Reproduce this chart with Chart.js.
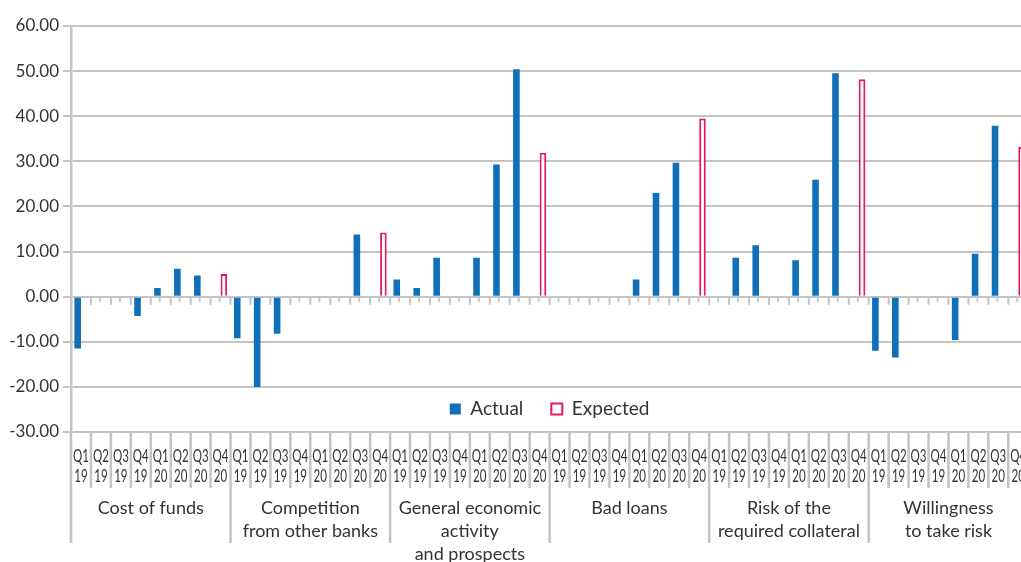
<!DOCTYPE html>
<html>
<head>
<meta charset="utf-8">
<script src="https://cdn.jsdelivr.net/npm/chart.js@4/dist/chart.umd.min.js"></script>
<style>
  html, body { margin: 0; padding: 0; overflow: hidden; background: #ffffff; }
  #c { display: block; }
</style>
</head>
<body>
<canvas id="c" width="1030" height="627" style="width:1030px;height:627px"></canvas>
<script>
// Factor groups and the quarters surveyed within each group
const groups = [
  'Cost of funds',
  ['Competition', 'from other banks'],
  ['General economic', 'activity', 'and prospects'],
  'Bad loans',
  ['Risk of the', 'required collateral'],
  ['Willingness', 'to take risk']
];
const quarters = ['Q1', 'Q2', 'Q3', 'Q4', 'Q1', 'Q2', 'Q3', 'Q4'];
const years = ['19', '19', '19', '19', '20', '20', '20', '20'];

// Actual net percentages per group (Q1 19 .. Q4 20; Q4 20 not yet observed)
const actualCostOfFunds  = [-11.5, 0, 0, -4.3, 1.9, 6.2, 4.7, null];
const actualCompetition  = [-9.2, -20.0, -8.2, 0, 0, 0, 13.8, null];
const actualEconomy      = [3.8, 1.9, 8.6, 0, 8.6, 29.3, 50.4, null];
const actualBadLoans     = [0, 0, 0, 0, 3.8, 23.0, 29.7, null];
const actualCollateral   = [0, 8.6, 11.4, 0, 8.1, 25.9, 49.5, null];
const actualRiskTaking   = [-12.0, -13.5, 0, 0, -9.6, 9.5, 37.9, null];

// Expected values for Q4 20, one per group
const expectedQ4 = [5.0, 14.2, 31.9, 39.5, 48.2, 33.2];

// Y axis range and step
const yMin = -30, yMax = 60, yStep = 10;

const actualSeries = [actualCostOfFunds, actualCompetition, actualEconomy,
                      actualBadLoans, actualCollateral, actualRiskTaking];

const labels = [];
const actual = [];
const expected = [];
groups.forEach((g, gi) => {
  quarters.forEach((q, qi) => {
    labels.push([q, years[qi]]);
    actual.push(actualSeries[gi][qi]);
    expected.push(qi === quarters.length - 1 ? expectedQ4[gi] : null);
  });
});

const gridColor = '#c4c4c4';
const textColor = '#333333';
const blue = '#0f6fb8';
const pink = '#e5195e';

// Small ticks along the zero line and the separators of the category table below the plot
const axisDecor = {
  id: 'axisDecor',
  beforeDatasetsDraw(chart) {
    const { ctx, scales: { x, y } } = chart;
    const step = x.getPixelForValue(1) - x.getPixelForValue(0);
    const y0 = y.getPixelForValue(0);
    ctx.save();
    ctx.strokeStyle = gridColor;
    ctx.lineWidth = 2;
    ctx.beginPath();
    for (let i = 0; i < labels.length; i++) {
      const cx = x.getPixelForValue(i);
      if (i > 0) {
        ctx.moveTo(cx - step / 2, y0);
        ctx.lineTo(cx - step / 2, y0 + 8);
      }
      ctx.moveTo(cx - 1, y0);
      ctx.lineTo(cx - 1, y0 + 5);
    }
    ctx.stroke();
    ctx.restore();
  },
  afterDraw(chart) {
    const { ctx, chartArea, scales: { x } } = chart;
    const step = x.getPixelForValue(1) - x.getPixelForValue(0);
    const top = chartArea.bottom;
    ctx.save();
    ctx.strokeStyle = gridColor;
    ctx.lineWidth = 2.5;
    ctx.beginPath();
    for (let i = 0; i <= labels.length; i++) {
      const bx = x.getPixelForValue(0) - step / 2 + i * step;
      const len = i % quarters.length === 0 ? 111 : 56;
      ctx.moveTo(bx, top);
      ctx.lineTo(bx, top + len);
    }
    ctx.stroke();
    ctx.restore();
  }
};

// Places the legend inside the plot, just above the lowest gridline
const legendInside = {
  id: 'legendInside',
  beforeDraw(chart) {
    const lg = chart.legend;
    if (!lg) return;
    const ca = chart.chartArea;
    const h = lg.height;
    const cy = ca.bottom - 32;
    lg.top = cy - h / 2;
    lg.bottom = lg.top + h;
    lg.left = ca.left;
    lg.right = ca.right;
    lg.width = ca.right - ca.left;
  }
};

// Quarter labels are set in a narrow face: squeeze each tick label horizontally around its anchor
const narrowTicks = {
  id: 'narrowTicks',
  beforeDraw(chart) {
    const sx = chart.scales.x;
    if (!sx || sx._narrowed) return;
    const origDraw = sx.drawLabels.bind(sx);
    sx.drawLabels = function (area) {
      const ctx = this.ctx;
      const origFill = ctx.fillText;
      ctx.fillText = function (t, px, py, mw) {
        this.save();
        this.translate(px, py);
        this.scale(0.68, 1);
        if (mw === undefined) origFill.call(this, t, 0, 0);
        else origFill.call(this, t, 0, 0, mw / 0.68);
        this.restore();
      };
      try { origDraw(area); } finally { ctx.fillText = origFill; }
    };
    sx._narrowed = true;
  }
};

new Chart(document.getElementById('c'), {
  type: 'bar',
  data: {
    labels: labels,
    datasets: [
      {
        label: 'Actual',
        data: actual,
        xAxisID: 'x',
        backgroundColor: blue,
        borderWidth: 0
      },
      {
        label: 'Expected',
        data: expected,
        xAxisID: 'x',
        backgroundColor: '#ffffff',
        borderColor: pink,
        borderWidth: 2
      }
    ]
  },
  options: {
    responsive: false,
    animation: false,
    events: [],
    categoryPercentage: 0.66,
    barPercentage: 1.0,
    layout: { padding: { top: 26, right: 0, bottom: 0, left: 0 } },
    plugins: {
      tooltip: { enabled: false },
      legend: {
        position: 'bottom',
        labels: {
          color: textColor,
          font: { family: 'Lato', size: 19 },
          boxWidth: 11,
          boxHeight: 11,
          padding: 28
        }
      }
    },
    scales: {
      x: {
        type: 'category',
        position: 'bottom',
        offset: true,
        grid: { display: false, drawTicks: true, tickLength: 14 },
        border: { display: false },
        ticks: {
          autoSkip: false,
          maxRotation: 0,
          minRotation: 0,
          padding: 0,
          color: textColor,
          font: { family: 'Lato', size: 17, lineHeight: 1.18 }
        },
        afterFit(scale) { scale.height = 58; }
      },
      x2: {
        type: 'category',
        position: 'bottom',
        weight: 1,
        labels: groups,
        offset: true,
        grid: { display: false, drawTicks: false, tickLength: 0 },
        border: { display: false },
        ticks: {
          autoSkip: false,
          maxRotation: 0,
          minRotation: 0,
          padding: 6,
          color: textColor,
          font: { family: 'Lato', size: 18, lineHeight: 1.3 }
        },
        afterFit(scale) { scale.height = 80; }
      },
      y: {
        min: yMin,
        max: yMax,
        ticks: {
          stepSize: yStep,
          padding: 4,
          color: textColor,
          font: { family: 'Lato', size: 17 },
          callback: (v) => Number(v).toFixed(2)
        },
        grid: { color: gridColor, lineWidth: 2, tickLength: 8, drawTicks: true },
        border: { color: gridColor, width: 2.5 },
        afterFit(scale) { scale.width = 71; }
      }
    }
  },
  plugins: [axisDecor, legendInside, narrowTicks]
});
</script>
</body>
</html>
